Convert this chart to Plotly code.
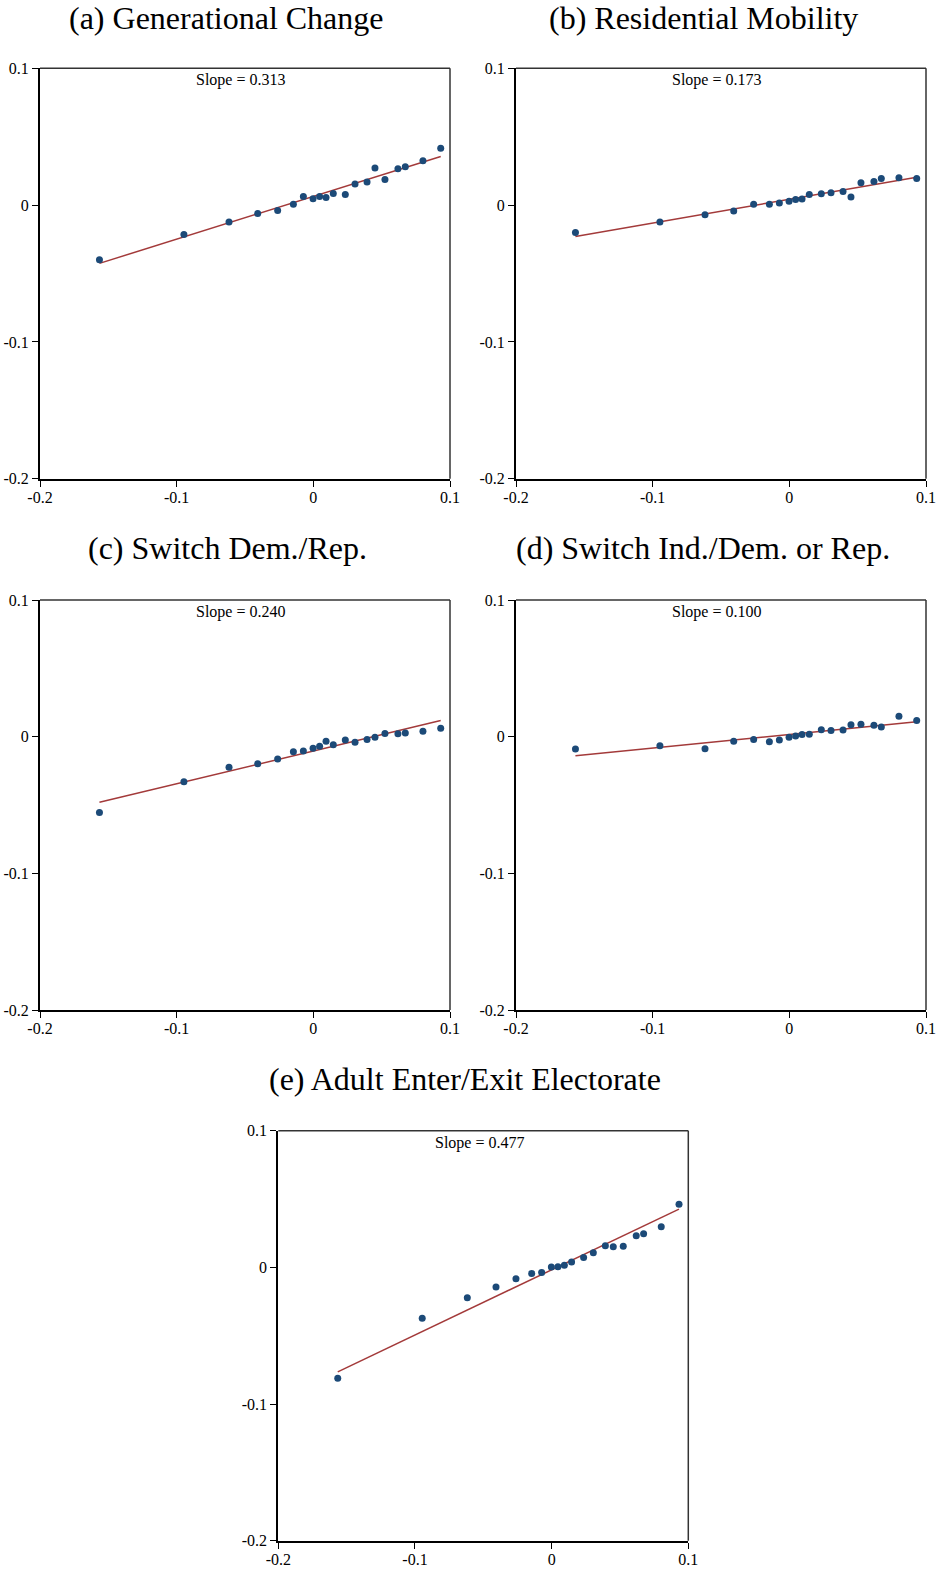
import plotly.graph_objects as go

W, H = 938, 1569

# ---- data ----
x_vals = [-0.1565, -0.0947, -0.0617, -0.0407, -0.0261, -0.0146, -0.0073, -0.0002, 0.0046, 0.0093,
          0.0146, 0.0234, 0.0305, 0.0393, 0.0451, 0.0524, 0.0619, 0.0673, 0.0802, 0.0932]

y_gen = [-0.0400, -0.0215, -0.0124, -0.0061, -0.0039, 0.0007, 0.0063, 0.0046, 0.0063, 0.0056,
         0.0085, 0.0078, 0.0154, 0.0168, 0.0271, 0.0188, 0.0266, 0.0280, 0.0324, 0.0415]
y_res = [-0.0200, -0.0124, -0.0071, -0.0044, 0.0007, 0.0007, 0.0015, 0.0029, 0.0041, 0.0044,
         0.0078, 0.0083, 0.0090, 0.0100, 0.0059, 0.0163, 0.0173, 0.0195, 0.0200, 0.0195]
y_dr = [-0.0554, -0.0329, -0.0224, -0.0198, -0.0163, -0.0110, -0.0105, -0.0085, -0.0071, -0.0034,
        -0.0059, -0.0024, -0.0041, -0.0020, -0.0005, 0.0024, 0.0022, 0.0027, 0.0039, 0.0061]
y_ind = [-0.0090, -0.0066, -0.0088, -0.0034, -0.0020, -0.0037, -0.0024, -0.0005, 0.0005, 0.0015,
         0.0017, 0.0051, 0.0046, 0.0049, 0.0088, 0.0090, 0.0083, 0.0071, 0.0149, 0.0119]
y_adult = [-0.0812, -0.0373, -0.0222, -0.0144, -0.0083, -0.0044, -0.0037, 0.0002, 0.0005, 0.0015,
           0.0039, 0.0073, 0.0107, 0.0159, 0.0151, 0.0154, 0.0232, 0.0246, 0.0298, 0.0461]

titles = ["(a) Generational Change", "(b) Residential Mobility", "(c) Switch Dem./Rep.",
          "(d) Switch Ind./Dem. or Rep.", "(e) Adult Enter/Exit Electorate"]
slopes = [0.313, 0.173, 0.240, 0.100, 0.477]
intercepts = [0.0064, 0.0042, -0.0105, 0.0016, -0.0018]
series = [y_gen, y_res, y_dr, y_ind, y_adult]

tick_vals = [-0.2, -0.1, 0, 0.1]
tick_text = ["-0.2", "-0.1", "0", "0.1"]

# ---- layout geometry (pixels) ----
boxes = [(40, 450, 68.3, 478.7), (516, 926, 68.3, 478.7),
         (40, 450, 600, 1010), (516, 926, 600, 1010),
         (278.3, 688.3, 1130.7, 1540.7)]
title_pos = [(226, 18), (703, 18), (227, 548), (703, 548), (465, 1079)]


def px(x):
    return x / W


def py(y):
    return 1 - y / H


DOT = "#1c4a78"
LINE = "#a33a3a"
FONT = "Liberation Serif"

fig = go.Figure()
layout = dict(template="none", width=W, height=H, margin=dict(l=0, r=0, t=0, b=0, autoexpand=False),
              plot_bgcolor="white", paper_bgcolor="white", showlegend=False)
annotations = []
shapes = []

for i, (ys, title, s, b0) in enumerate(zip(series, titles, slopes, intercepts)):
    n = i + 1
    xa = "x" if n == 1 else f"x{n}"
    ya = "y" if n == 1 else f"y{n}"
    x0p, x1p, y0p, y1p = boxes[i]
    xmin, xmax = min(x_vals), max(x_vals)
    fig.add_trace(go.Scatter(x=[xmin, xmax], y=[b0 + s * xmin, b0 + s * xmax], mode="lines",
                             line=dict(color=LINE, width=1.5), xaxis=xa, yaxis=ya, hoverinfo="skip"))
    fig.add_trace(go.Scatter(x=x_vals, y=ys, mode="markers",
                             marker=dict(color=DOT, size=7, line=dict(width=0)),
                             xaxis=xa, yaxis=ya))
    axcommon = dict(range=[-0.2, 0.1], tickvals=tick_vals, ticktext=tick_text,
                    ticks="outside", ticklen=6, tickwidth=1, tickcolor="black",
                    showline=True, linecolor="black", linewidth=2, showgrid=False, zeroline=False,
                    automargin=False,
                    tickfont=dict(family=FONT, size=16, color="black"), fixedrange=True)
    xkey = "xaxis" if n == 1 else f"xaxis{n}"
    ykey = "yaxis" if n == 1 else f"yaxis{n}"
    layout[xkey] = dict(axcommon, domain=[px(x0p), px(x1p)], anchor=ya, ticklabelstandoff=-3)
    layout[ykey] = dict(axcommon, domain=[py(y1p), py(y0p)], anchor=xa)
    # top and right border
    shapes.append(dict(type="line", xref=f"{xa} domain", yref=f"{ya} domain", x0=0, x1=1, y0=1, y1=1,
                       line=dict(color="#333333", width=1.5)))
    shapes.append(dict(type="line", xref=f"{xa} domain", yref=f"{ya} domain", x0=1, x1=1, y0=0, y1=1,
                       line=dict(color="#333333", width=1.5)))
    annotations.append(dict(text=f"Slope = {s:.3f}", xref=f"{xa} domain", yref=f"{ya} domain",
                            x=0.49, y=1, xanchor="center", yanchor="top", yshift=-1, showarrow=False,
                            font=dict(family=FONT, size=16, color="black")))
    tx, ty = title_pos[i]
    annotations.append(dict(text=title, xref="paper", yref="paper", x=px(tx), y=py(ty),
                            xanchor="center", yanchor="middle", showarrow=False,
                            font=dict(family=FONT, size=32, color="black")))

layout["annotations"] = annotations
layout["shapes"] = shapes
fig.update_layout(**layout)
fig.write_html("out.html", config={"displayModeBar": False},
               post_script="document.body.style.margin='0px';")
